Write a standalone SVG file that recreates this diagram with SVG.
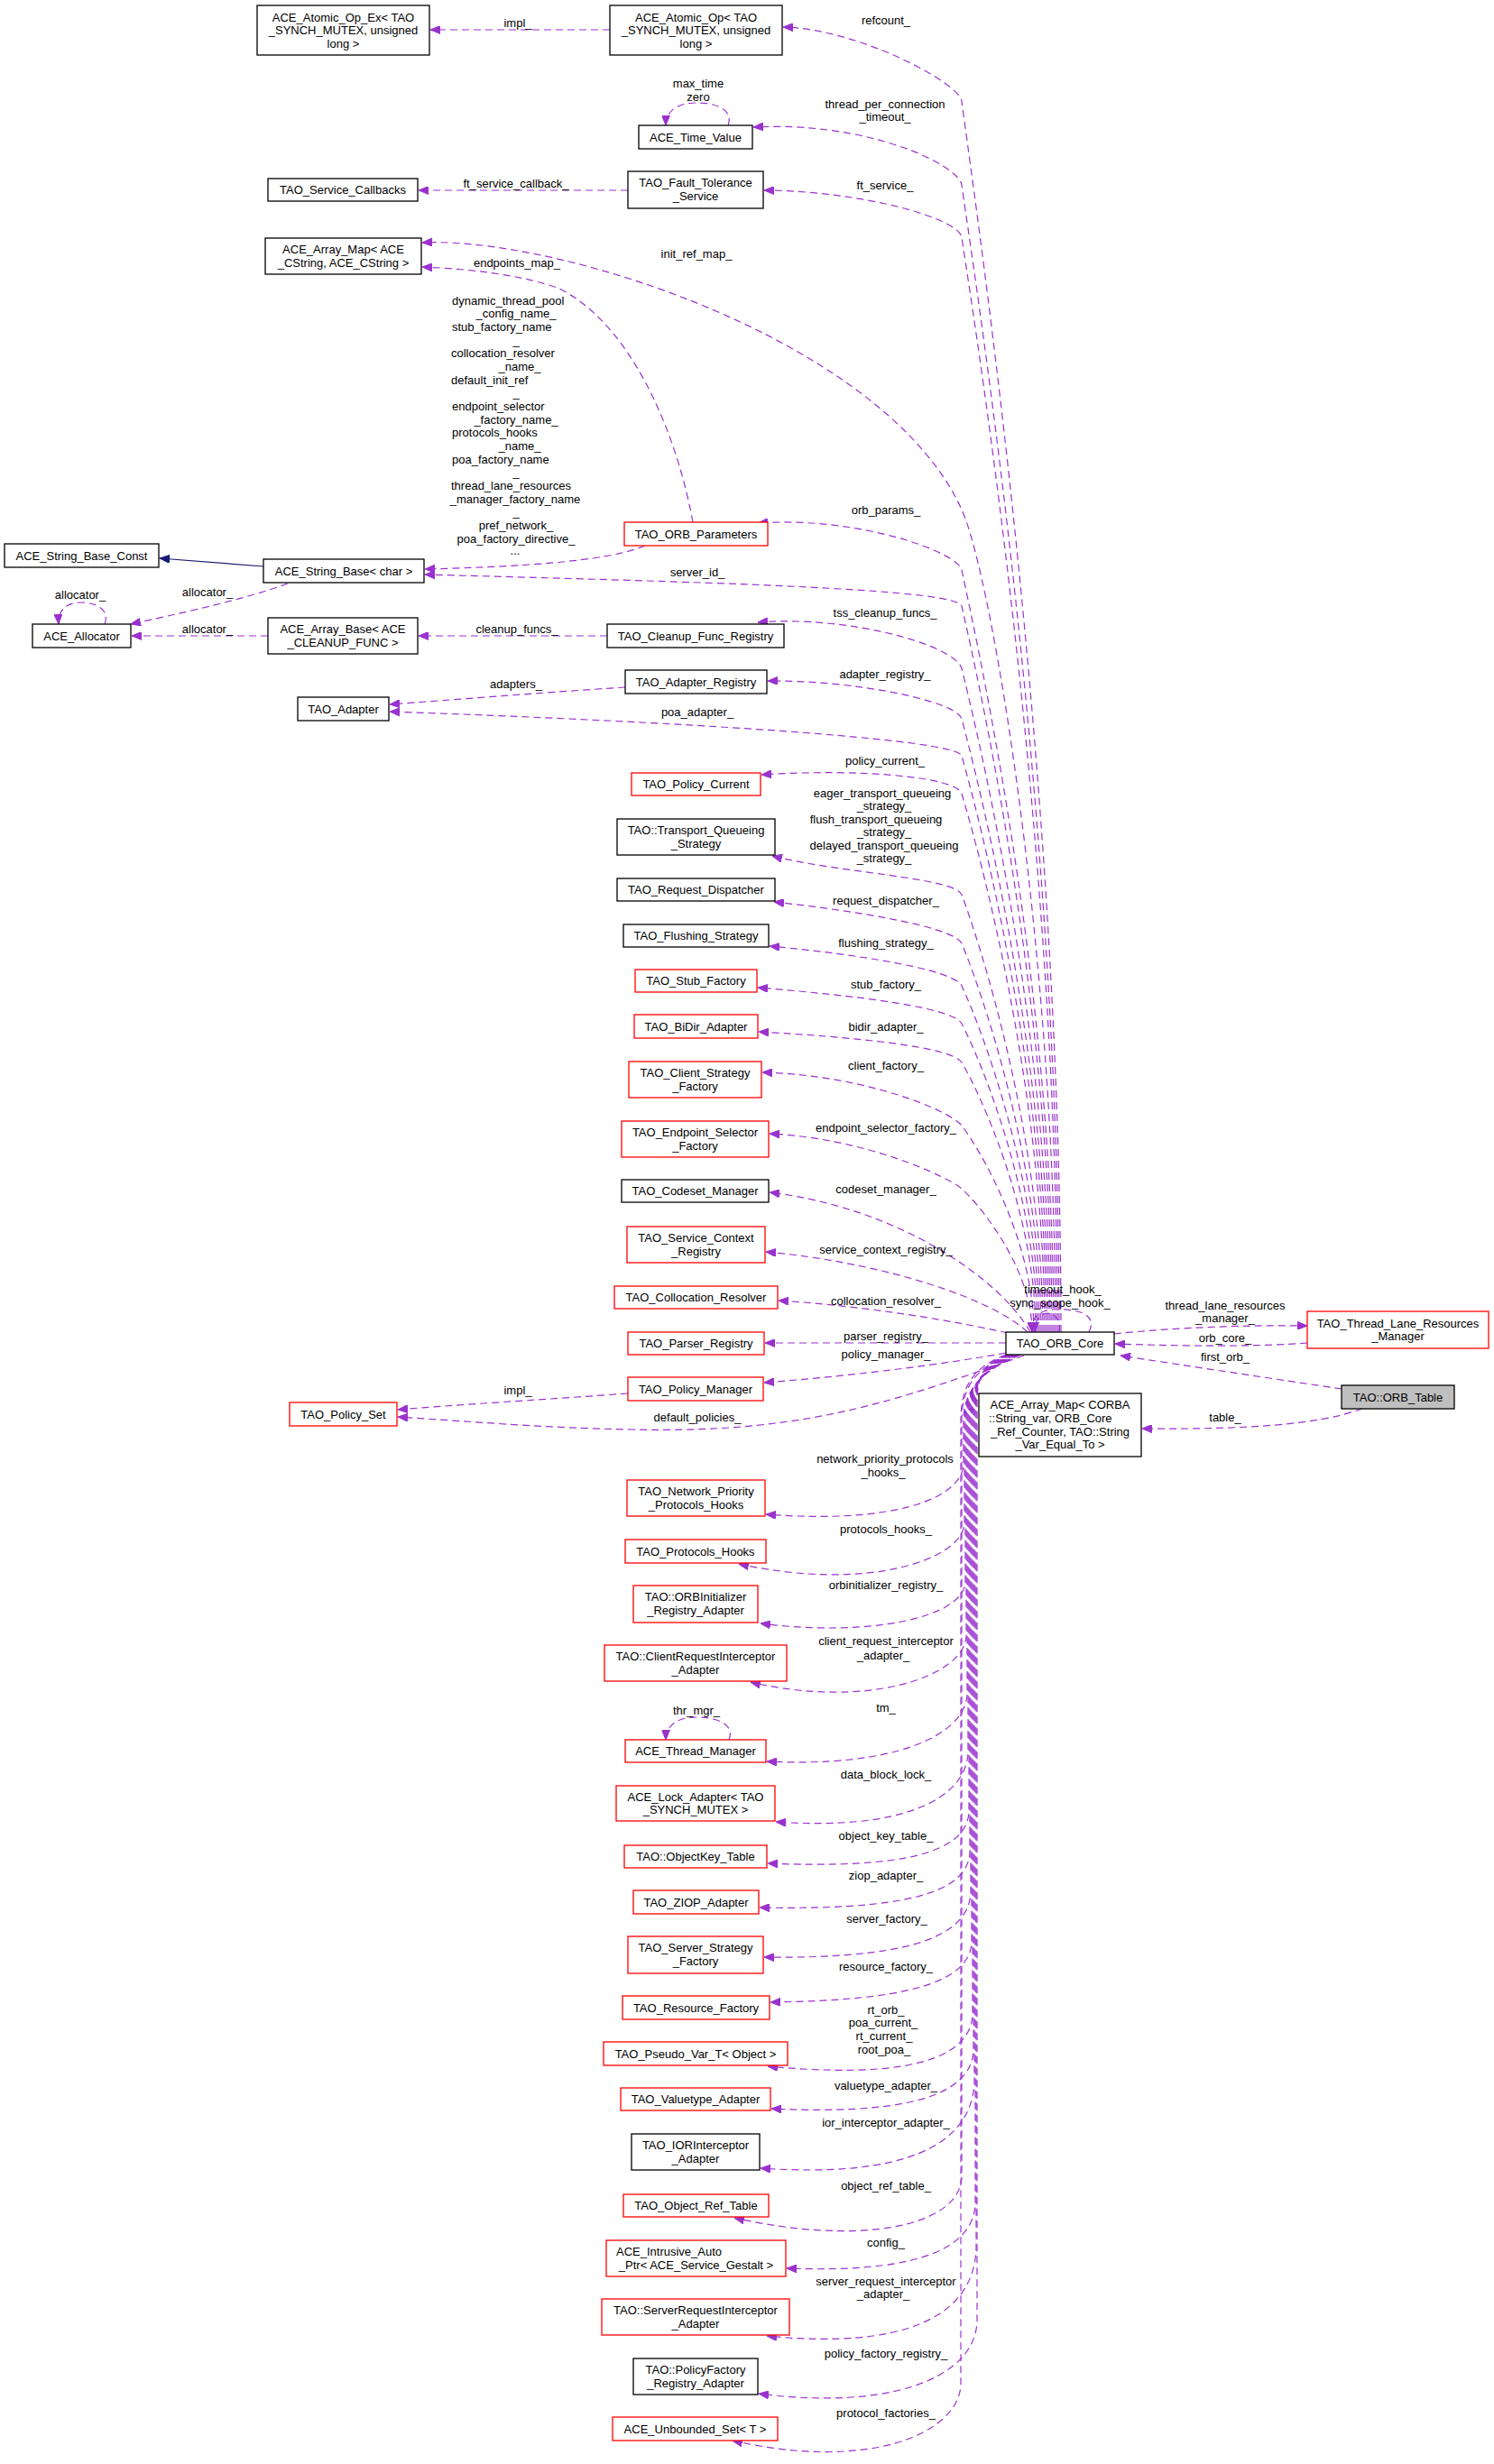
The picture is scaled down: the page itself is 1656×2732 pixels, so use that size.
<svg xmlns="http://www.w3.org/2000/svg" width="1656" height="2732" viewBox="0 0 1656 2732">
<style>
text{font-family:"Liberation Sans",Arial,sans-serif;font-size:13px;fill:#000}
.n rect{fill:#fff;stroke:#000;stroke-width:1.3}
.r rect{stroke:#ff0000}
.g rect{fill:#bfbfbf}
.n text{text-anchor:middle}
.lb text{text-anchor:middle}
.lb text.s{text-anchor:start}
.e path{fill:none;stroke:#9a32cd;stroke-width:1.2;stroke-dasharray:8,5;marker-end:url(#a)}
.e path.inh{stroke:#191970;stroke-dasharray:none;marker-end:url(#b)}
</style>
<defs>
<marker id="a" markerWidth="11" markerHeight="9" viewBox="0 0 11 9" refX="11" refY="4.5" orient="auto" markerUnits="userSpaceOnUse"><path d="M0,0 L11,4.5 L0,9 z" fill="#9a32cd" stroke="#9a32cd" stroke-dasharray="none"/></marker>
<marker id="b" markerWidth="11" markerHeight="9" viewBox="0 0 11 9" refX="11" refY="4.5" orient="auto" markerUnits="userSpaceOnUse"><path d="M0,0 L11,4.5 L0,9 z" fill="#191970" stroke="#191970" stroke-dasharray="none"/></marker>
</defs>
<rect width="1656" height="2732" fill="#fff"/>

<g id="connectors" class="e">
<path class="inh" d="M292,628 L177,619"/>
<path d="M676,33 L477,33"/>
<path d="M696,211 L464,211"/>
<path d="M768,579 C750,480 700,360 620,320 C580,305 520,298 468,296"/>
<path d="M715,605 C680,620 600,628 471,631"/>
<path d="M319,647 C270,665 200,680 145,692"/>
<path d="M297,705 L146,705"/>
<path d="M673,705 L464,705"/>
<path d="M693,762 C600,768 500,776 432,781"/>
<path d="M696,1545 C600,1552 500,1558 441,1563"/>
<path d="M807,139 C813,122 795,114 772,114 C752,114 738,122 738,139"/>
<path d="M808,1929 C815,1912 795,1904 772,1904 C752,1904 738,1912 738,1929"/>
<path d="M116,692 C122,676 107,668 90,668 C74,668 64,676 65,692"/>
<path d="M1207,1477 C1218,1455 1190,1451 1168,1452 C1150,1453 1143,1462 1144,1477"/>
<path d="M1174,1477 C1177,1462 1168,1456 1160,1456 C1152,1457 1147,1465 1147,1477"/>
<path d="M1176,1477 C1176,863 1084,249 1066,112 C1063,92 952,32 868,30"/>
<path d="M1174,1477 C1174,905 1084,332 1066,205 C1062,182 960,134 835,141"/>
<path d="M1172,1477 C1172,931 1084,384 1066,263 C1063,243 960,212 847,211"/>
<path d="M1170,1477 C1170,1067 1100,640 1066,565 C981,378 620,262 468,269"/>
<path d="M1168,1477 C1168,1097 1084,717 1066,632 C1062,612 950,572 840,580"/>
<path d="M1166,1477 C1166,1115 1084,752 1066,672 C1062,652 760,645 471,637"/>
<path d="M1164,1477 C1164,1146 1084,815 1066,741 C1058,715 940,682 840,690"/>
<path d="M1162,1477 C1162,1171 1084,865 1066,797 C1061,778 950,754 851,755"/>
<path d="M1160,1477 C1160,1189 1084,902 1066,838 C1061,819 750,800 432,789"/>
<path d="M1158,1477 C1158,1208 1084,940 1066,880 C1060,861 950,852 844,859"/>
<path d="M1156,1477 C1156,1259 1084,1040 1066,992 C1059,973 930,968 856,949"/>
<path d="M1154,1477 C1154,1283 1084,1089 1066,1046 C1058,1028 950,1010 858,1000"/>
<path d="M1152,1477 C1152,1304 1084,1131 1066,1093 C1057,1075 950,1058 853,1049"/>
<path d="M1150,1477 C1150,1323 1084,1169 1066,1135 C1057,1117 950,1104 840,1095"/>
<path d="M1148,1477 C1148,1342 1084,1208 1066,1178 C1056,1161 950,1150 841,1144"/>
<path d="M1146,1477 C1146,1374 1084,1271 1066,1248 C1054,1232 960,1192 845,1189"/>
<path d="M1144,1477 C1144,1405 1084,1334 1066,1318 C1051,1305 960,1262 853,1257"/>
<path d="M1142,1477 C1110,1420 1000,1340 853,1322"/>
<path d="M1139,1477 C1100,1440 980,1400 849,1388"/>
<path d="M1117,1478 C1060,1465 960,1448 863,1442"/>
<path d="M1115,1489 L848,1489"/>
<path d="M1115,1500 C1050,1512 950,1525 847,1533"/>
<path d="M1135,1503 C1000,1550 900,1590 700,1585 C600,1583 520,1576 441,1571"/>
<path d="M1132,1502 C1097,1516 1068,1535 1068,1575 L1068,1625 C1064,1662 990,1690 849,1679"/>
<path d="M1131,1502 C1096,1516 1069,1535 1069,1575 L1069,1690 C1065,1730 960,1765 819,1734"/>
<path d="M1130,1502 C1095,1516 1070,1535 1070,1575 L1070,1755 C1066,1795 960,1815 843,1800"/>
<path d="M1129,1502 C1094,1516 1071,1535 1071,1575 L1071,1815 C1067,1860 960,1895 832,1865"/>
<path d="M1128,1502 C1093,1516 1072,1535 1072,1575 L1072,1880 C1068,1925 990,1960 850,1953"/>
<path d="M1127,1502 C1092,1516 1073,1535 1073,1575 L1073,1945 C1069,1995 1000,2030 860,2020"/>
<path d="M1126,1502 C1091,1516 1074,1535 1074,1575 L1074,2010 C1070,2055 1000,2072 851,2066"/>
<path d="M1125,1502 C1090,1516 1075,1535 1075,1575 L1075,2055 C1071,2100 1000,2118 842,2115"/>
<path d="M1124,1502 C1089,1516 1076,1535 1076,1575 L1076,2100 C1072,2150 1000,2172 847,2170"/>
<path d="M1123,1502 C1088,1516 1077,1535 1077,1575 L1077,2155 C1073,2200 1000,2218 854,2220"/>
<path d="M1122,1502 C1087,1516 1078,1535 1078,1575 L1078,2235 C1074,2285 1000,2305 851,2291"/>
<path d="M1121,1502 C1086,1516 1079,1535 1079,1575 L1079,2275 C1075,2325 1000,2345 855,2338"/>
<path d="M1120,1502 C1085,1516 1080,1535 1080,1575 L1080,2310 C1076,2380 1000,2415 843,2404"/>
<path d="M1119,1502 C1084,1516 1066,1535 1066,1575 L1066,2415 C1062,2470 950,2490 814,2459"/>
<path d="M1118,1502 C1083,1516 1081,1535 1081,1575 L1081,2445 C1077,2500 1000,2520 872,2515"/>
<path d="M1117,1502 C1082,1516 1082,1535 1082,1575 L1082,2495 C1078,2570 1000,2605 850,2590"/>
<path d="M1116,1502 C1081,1516 1083,1535 1083,1575 L1083,2575 C1079,2640 980,2672 841,2654"/>
<path d="M1115,1502 C1080,1516 1065,1535 1065,1575 L1065,2645 C1061,2700 960,2740 812,2706"/>
<path d="M1235,1479 C1300,1472 1380,1469 1449,1470"/>
<path d="M1449,1489 C1380,1494 1300,1492 1236,1490"/>
<path d="M1487,1540 C1420,1530 1320,1515 1242,1503"/>
<path d="M1510,1562 C1460,1580 1380,1585 1266,1584"/>
</g>

<g id="labels" class="lb">
<text x="574" y="29.5">impl_</text>
<text x="982" y="26.5">refcount_</text>
<text x="774" y="96.5">max_time</text>
<text x="774" y="111.5">zero</text>
<text x="981" y="119.5">thread_per_connection</text>
<text x="981" y="133.5">_timeout_</text>
<text x="572" y="207.5">ft_service_callback_</text>
<text x="981" y="209.5">ft_service_</text>
<text x="772" y="285.5">init_ref_map_</text>
<text x="573" y="295.5">endpoints_map_</text>
<text class="s" x="501" y="337.5">dynamic_thread_pool</text>
<text x="572" y="352.2">_config_name_</text>
<text class="s" x="501" y="366.8">stub_factory_name</text>
<text x="572" y="381.5">_</text>
<text class="s" x="500" y="396.2">collocation_resolver</text>
<text x="576" y="410.9">_name_</text>
<text class="s" x="500" y="425.5">default_init_ref</text>
<text x="572" y="440.2">_</text>
<text class="s" x="501" y="454.9">endpoint_selector</text>
<text x="572" y="469.5">_factory_name_</text>
<text class="s" x="501" y="484.2">protocols_hooks</text>
<text x="576" y="498.9">_name_</text>
<text class="s" x="501" y="513.5">poa_factory_name</text>
<text x="572" y="528.2">_</text>
<text class="s" x="500" y="542.9">thread_lane_resources</text>
<text x="571" y="557.5">_manager_factory_name</text>
<text x="572" y="572.2">_</text>
<text x="572" y="586.9">pref_network_</text>
<text x="572" y="601.5">poa_factory_directive_</text>
<text x="571" y="615">...</text>
<text x="982" y="569.5">orb_params_</text>
<text x="773" y="638.5">server_id_</text>
<text x="89" y="663.5">allocator_</text>
<text x="230" y="660.5">allocator_</text>
<text x="230" y="701.5">allocator_</text>
<text x="573" y="701.5">cleanup_funcs_</text>
<text x="981" y="683.5">tss_cleanup_funcs_</text>
<text x="981" y="751.5">adapter_registry_</text>
<text x="572" y="762.5">adapters_</text>
<text x="773" y="793.5">poa_adapter_</text>
<text x="981" y="847.5">policy_current_</text>
<text x="978" y="883.5">eager_transport_queueing</text>
<text x="980" y="898">_strategy_</text>
<text x="971" y="912.6">flush_transport_queueing</text>
<text x="980" y="927.2">_strategy_</text>
<text x="980" y="941.8">delayed_transport_queueing</text>
<text x="980" y="956.4">_strategy_</text>
<text x="982" y="1002.5">request_dispatcher_</text>
<text x="982" y="1049.5">flushing_strategy_</text>
<text x="982" y="1095.5">stub_factory_</text>
<text x="982" y="1143">bidir_adapter_</text>
<text x="982" y="1185.5">client_factory_</text>
<text x="982" y="1254.5">endpoint_selector_factory_</text>
<text x="982" y="1322.5">codeset_manager_</text>
<text x="982" y="1389.5">service_context_registry_</text>
<text x="982" y="1446.5">collocation_resolver_</text>
<text x="1178" y="1433.5">timeout_hook_</text>
<text x="1175" y="1448.5">sync_scope_hook_</text>
<text x="1358" y="1451.5">thread_lane_resources</text>
<text x="1358" y="1465.5">_manager_</text>
<text x="982" y="1485.5">parser_registry_</text>
<text x="1358" y="1487.5">orb_core_</text>
<text x="982" y="1505.5">policy_manager_</text>
<text x="1358" y="1508.5">first_orb_</text>
<text x="574" y="1545.5">impl_</text>
<text x="773" y="1575.5">default_policies_</text>
<text x="1358" y="1575.5">table_</text>
<text x="981" y="1621.5">network_priority_protocols</text>
<text x="979" y="1636.5">_hooks_</text>
<text x="982" y="1699.5">protocols_hooks_</text>
<text x="982" y="1761.5">orbinitializer_registry_</text>
<text x="982" y="1823.5">client_request_interceptor</text>
<text x="979" y="1839.5">_adapter_</text>
<text x="772" y="1900.5">thr_mgr_</text>
<text x="982" y="1897.5">tm_</text>
<text x="982" y="1971.5">data_block_lock_</text>
<text x="982" y="2039.5">object_key_table_</text>
<text x="982" y="2083.5">ziop_adapter_</text>
<text x="983" y="2131.5">server_factory_</text>
<text x="982" y="2184.5">resource_factory_</text>
<text x="982" y="2232.5">rt_orb_</text>
<text x="979" y="2247.2">poa_current_</text>
<text x="980" y="2261.9">rt_current_</text>
<text x="980" y="2276.6">root_poa_</text>
<text x="982" y="2316.5">valuetype_adapter_</text>
<text x="982" y="2357.5">ior_interceptor_adapter_</text>
<text x="982" y="2427.5">object_ref_table_</text>
<text x="982" y="2490.5">config_</text>
<text x="982" y="2533.5">server_request_interceptor</text>
<text x="979" y="2548">_adapter_</text>
<text x="982" y="2613.5">policy_factory_registry_</text>
<text x="982" y="2679.5">protocol_factories_</text>
</g>

<g id="n_ACE_Atomic_Op_Ex" class="n"><rect x="285" y="6" width="191" height="55"/><text x="380.5" y="23.5">ACE_Atomic_Op_Ex&lt; TAO</text><text x="380.5" y="38">_SYNCH_MUTEX, unsigned</text><text x="380.5" y="52.5">long &gt;</text></g>
<g id="n_ACE_Atomic_Op" class="n"><rect x="676" y="6" width="191" height="55"/><text x="771.5" y="23.5">ACE_Atomic_Op&lt; TAO</text><text x="771.5" y="38">_SYNCH_MUTEX, unsigned</text><text x="771.5" y="52.5">long &gt;</text></g>
<g id="n_ACE_Time_Value" class="n"><rect x="708" y="139" width="126" height="26"/><text x="771" y="156.5">ACE_Time_Value</text></g>
<g id="n_TAO_Service_Callbacks" class="n"><rect x="297" y="198" width="166" height="25"/><text x="380" y="215">TAO_Service_Callbacks</text></g>
<g id="n_TAO_Fault_Tolerance_Service" class="n"><rect x="696" y="190" width="150" height="41"/><text x="771" y="207">TAO_Fault_Tolerance</text><text x="771" y="221.5">_Service</text></g>
<g id="n_ACE_Array_Map_CString" class="n"><rect x="294" y="264" width="173" height="40"/><text x="380.5" y="281">ACE_Array_Map&lt; ACE</text><text x="380.5" y="295.5">_CString, ACE_CString &gt;</text></g>
<g id="n_TAO_ORB_Parameters" class="n r"><rect x="692" y="579" width="159" height="26"/><text x="771.5" y="596.5">TAO_ORB_Parameters</text></g>
<g id="n_ACE_String_Base_Const" class="n"><rect x="5" y="603" width="171" height="26"/><text x="90.5" y="620.5">ACE_String_Base_Const</text></g>
<g id="n_ACE_String_Base_char" class="n"><rect x="292" y="620" width="178" height="26"/><text x="381" y="637.5">ACE_String_Base&lt; char &gt;</text></g>
<g id="n_ACE_Allocator" class="n"><rect x="36" y="692" width="109" height="26"/><text x="90.5" y="709.5">ACE_Allocator</text></g>
<g id="n_ACE_Array_Base" class="n"><rect x="297" y="685" width="166" height="40"/><text x="380" y="702">ACE_Array_Base&lt; ACE</text><text x="380" y="716.5">_CLEANUP_FUNC &gt;</text></g>
<g id="n_TAO_Cleanup_Func_Registry" class="n"><rect x="673" y="692" width="196" height="26"/><text x="771" y="709.5">TAO_Cleanup_Func_Registry</text></g>
<g id="n_TAO_Adapter_Registry" class="n"><rect x="693" y="743" width="157" height="26"/><text x="771.5" y="760.5">TAO_Adapter_Registry</text></g>
<g id="n_TAO_Adapter" class="n"><rect x="330" y="773" width="101" height="26"/><text x="380.5" y="790.5">TAO_Adapter</text></g>
<g id="n_TAO_Policy_Current" class="n r"><rect x="700" y="857" width="143" height="25"/><text x="771.5" y="874">TAO_Policy_Current</text></g>
<g id="n_TAO_Transport_Queueing_Strategy" class="n"><rect x="684" y="908" width="175" height="40"/><text x="771.5" y="925">TAO::Transport_Queueing</text><text x="771.5" y="939.5">_Strategy</text></g>
<g id="n_TAO_Request_Dispatcher" class="n"><rect x="684" y="974" width="175" height="25"/><text x="771.5" y="991">TAO_Request_Dispatcher</text></g>
<g id="n_TAO_Flushing_Strategy" class="n"><rect x="691" y="1025" width="161" height="25"/><text x="771.5" y="1042">TAO_Flushing_Strategy</text></g>
<g id="n_TAO_Stub_Factory" class="n r"><rect x="704" y="1075" width="135" height="25"/><text x="771.5" y="1092">TAO_Stub_Factory</text></g>
<g id="n_TAO_BiDir_Adapter" class="n r"><rect x="703" y="1125" width="137" height="26"/><text x="771.5" y="1142.5">TAO_BiDir_Adapter</text></g>
<g id="n_TAO_Client_Strategy_Factory" class="n r"><rect x="697" y="1177" width="147" height="40"/><text x="770.5" y="1194">TAO_Client_Strategy</text><text x="770.5" y="1208.5">_Factory</text></g>
<g id="n_TAO_Endpoint_Selector_Factory" class="n r"><rect x="689" y="1243" width="163" height="40"/><text x="770.5" y="1260">TAO_Endpoint_Selector</text><text x="770.5" y="1274.5">_Factory</text></g>
<g id="n_TAO_Codeset_Manager" class="n"><rect x="689" y="1308" width="163" height="25"/><text x="770.5" y="1325">TAO_Codeset_Manager</text></g>
<g id="n_TAO_Service_Context_Registry" class="n r"><rect x="695" y="1360" width="153" height="40"/><text x="771.5" y="1377">TAO_Service_Context</text><text x="771.5" y="1391.5">_Registry</text></g>
<g id="n_TAO_Collocation_Resolver" class="n r"><rect x="681" y="1426" width="181" height="25"/><text x="771.5" y="1443">TAO_Collocation_Resolver</text></g>
<g id="n_TAO_Parser_Registry" class="n r"><rect x="696" y="1477" width="151" height="25"/><text x="771.5" y="1494">TAO_Parser_Registry</text></g>
<g id="n_TAO_Policy_Manager" class="n r"><rect x="696" y="1527" width="150" height="26"/><text x="771" y="1544.5">TAO_Policy_Manager</text></g>
<g id="n_TAO_Policy_Set" class="n r"><rect x="321" y="1555" width="119" height="26"/><text x="380.5" y="1572.5">TAO_Policy_Set</text></g>
<g id="n_TAO_ORB_Core" class="n"><rect x="1115" y="1477" width="120" height="25"/><text x="1175" y="1494">TAO_ORB_Core</text></g>
<g id="n_TAO_Thread_Lane_Resources_Manager" class="n r"><rect x="1449" y="1454" width="201" height="41"/><text x="1549.5" y="1471.5">TAO_Thread_Lane_Resources</text><text x="1549.5" y="1485.5">_Manager</text></g>
<g id="n_TAO_ORB_Table" class="n g"><rect x="1487" y="1536" width="125" height="26"/><text x="1549.5" y="1553.5">TAO::ORB_Table</text></g>
<g id="n_ACE_Array_Map_CORBA" class="n"><rect x="1085" y="1545" width="180" height="70"/><text x="1175" y="1561.5">ACE_Array_Map&lt; CORBA</text><text x="1096" y="1576.5" style="text-anchor:start">::String_var, ORB_Core</text><text x="1175" y="1591.5">_Ref_Counter, TAO::String</text><text x="1175" y="1605.5">_Var_Equal_To &gt;</text></g>
<g id="n_TAO_Network_Priority_Protocols_Hooks" class="n r"><rect x="695" y="1641" width="153" height="40"/><text x="771.5" y="1658">TAO_Network_Priority</text><text x="771.5" y="1672.5">_Protocols_Hooks</text></g>
<g id="n_TAO_Protocols_Hooks" class="n r"><rect x="693" y="1707" width="156" height="26"/><text x="771" y="1724.5">TAO_Protocols_Hooks</text></g>
<g id="n_TAO_ORBInitializer_Registry_Adapter" class="n r"><rect x="702" y="1758" width="138" height="41"/><text x="771" y="1775">TAO::ORBInitializer</text><text x="771" y="1789.5">_Registry_Adapter</text></g>
<g id="n_TAO_ClientRequestInterceptor_Adapter" class="n r"><rect x="670" y="1824" width="202" height="40"/><text x="771" y="1841">TAO::ClientRequestInterceptor</text><text x="771" y="1855.5">_Adapter</text></g>
<g id="n_ACE_Thread_Manager" class="n r"><rect x="693" y="1929" width="156" height="25"/><text x="771" y="1946">ACE_Thread_Manager</text></g>
<g id="n_ACE_Lock_Adapter" class="n r"><rect x="683" y="1980" width="176" height="39"/><text x="771" y="1996.5">ACE_Lock_Adapter&lt; TAO</text><text x="771" y="2011">_SYNCH_MUTEX &gt;</text></g>
<g id="n_TAO_ObjectKey_Table" class="n r"><rect x="692" y="2046" width="158" height="25"/><text x="771" y="2063">TAO::ObjectKey_Table</text></g>
<g id="n_TAO_ZIOP_Adapter" class="n r"><rect x="702" y="2096" width="139" height="26"/><text x="771.5" y="2113.5">TAO_ZIOP_Adapter</text></g>
<g id="n_TAO_Server_Strategy_Factory" class="n r"><rect x="696" y="2147" width="150" height="41"/><text x="771" y="2164">TAO_Server_Strategy</text><text x="771" y="2178.5">_Factory</text></g>
<g id="n_TAO_Resource_Factory" class="n r"><rect x="690" y="2213" width="163" height="26"/><text x="771.5" y="2230.5">TAO_Resource_Factory</text></g>
<g id="n_TAO_Pseudo_Var_T" class="n r"><rect x="669" y="2264" width="204" height="26"/><text x="771" y="2281.5">TAO_Pseudo_Var_T&lt; Object &gt;</text></g>
<g id="n_TAO_Valuetype_Adapter" class="n r"><rect x="688" y="2315" width="166" height="25"/><text x="771" y="2332">TAO_Valuetype_Adapter</text></g>
<g id="n_TAO_IORInterceptor_Adapter" class="n"><rect x="700" y="2366" width="142" height="40"/><text x="771" y="2383">TAO_IORInterceptor</text><text x="771" y="2397.5">_Adapter</text></g>
<g id="n_TAO_Object_Ref_Table" class="n r"><rect x="691" y="2433" width="161" height="25"/><text x="771.5" y="2450">TAO_Object_Ref_Table</text></g>
<g id="n_ACE_Intrusive_Auto_Ptr" class="n r"><rect x="672" y="2484" width="199" height="40"/><text x="683" y="2501" style="text-anchor:start">ACE_Intrusive_Auto</text><text x="771.5" y="2515.5">_Ptr&lt; ACE_Service_Gestalt &gt;</text></g>
<g id="n_TAO_ServerRequestInterceptor_Adapter" class="n r"><rect x="667" y="2549" width="208" height="40"/><text x="771" y="2566">TAO::ServerRequestInterceptor</text><text x="771" y="2580.5">_Adapter</text></g>
<g id="n_TAO_PolicyFactory_Registry_Adapter" class="n"><rect x="702" y="2615" width="138" height="40"/><text x="771" y="2632">TAO::PolicyFactory</text><text x="771" y="2646.5">_Registry_Adapter</text></g>
<g id="n_ACE_Unbounded_Set" class="n r"><rect x="679" y="2680" width="183" height="26"/><text x="770.5" y="2697.5">ACE_Unbounded_Set&lt; T &gt;</text></g>
</svg>
